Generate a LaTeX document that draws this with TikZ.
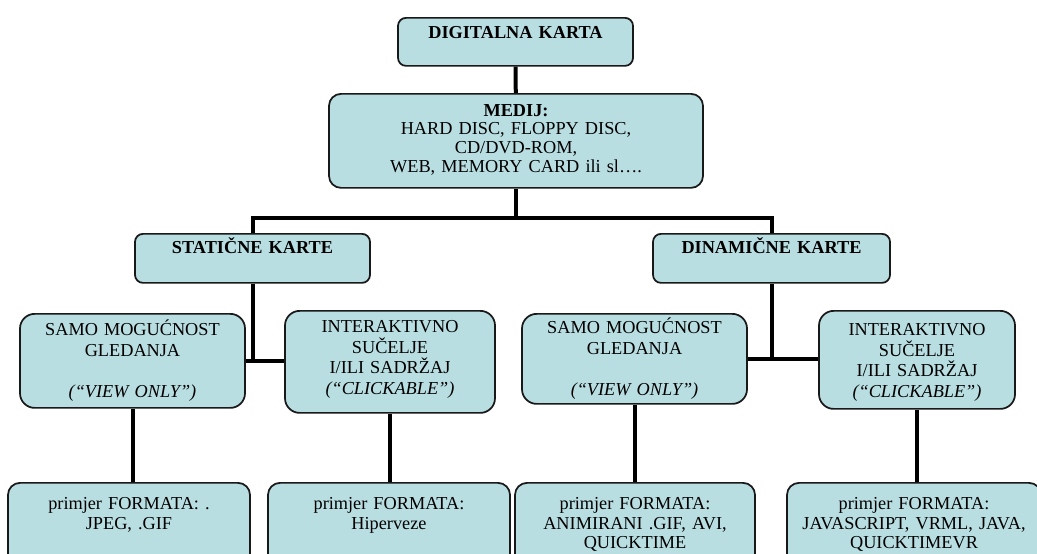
\documentclass[tikz,border=0pt]{standalone}
\usepackage{fontspec}
\setmainfont{Liberation Serif}
\usetikzlibrary{calc}
\definecolor{cus-box}{RGB}{185, 222, 226}
\definecolor{cus-edge}{RGB}{25, 25, 25}
\tikzset{
	box/.style={draw=cus-edge, line width=1.3pt, fill=cus-box, anchor=north, inner sep=0pt, align=center, font=\fontsize{13.7}{13.9}\selectfont},
	head/.style={box, rounded corners=6pt, font=\fontsize{13.7}{13.9}\selectfont\bfseries},
	kind/.style={box, rounded corners=11pt, font=\fontsize{13.7}{15.4}\selectfont},
	form/.style={box, rounded corners=9pt, text height=20.25pt, text depth=45.75pt, font=\fontsize{13.7}{14.6}\selectfont},
	link/.style={draw=black, line width=3pt}
}
\begin{document}
\begin{tikzpicture}[x=0.75pt, y=-0.75pt]
\clip (0,0) rectangle (1037,553);
\fill[white] (0,0) rectangle (1037,553);

% top
\node [head, text width=176.25pt, text height=15.75pt, text depth=20.25pt] (karta) at (515.5,17) {DIGITALNA KARTA};
\node [box, rounded corners=9pt, text width=280.5pt, text height=16.9pt, text depth=53.6pt] (medij) at (516,93) {\textbf{MEDIJ:}\\HARD DISC, FLOPPY DISC,\\CD/DVD-ROM,\\WEB, MEMORY CARD ili sl….};

% second row
\node [head, text width=176.25pt, text height=15pt, text depth=21.75pt] (stat) at (252.5,233) {STATIČNE KARTE};
\node [head, text width=177.75pt, text height=15pt, text depth=21.75pt] (dinam) at (771.5,233) {DINAMIČNE KARTE};

% third row
\node [kind, text width=168.75pt, text height=16.5pt, text depth=54pt] (viewa) at (132.5,313) {SAMO MOGUĆNOST\\GLEDANJA\\[15.4pt]\textit{(“VIEW ONLY”)}};
\node [kind, text width=157.5pt, text height=16.5pt, text depth=60pt] (clicka) at (390,310) {INTERAKTIVNO\\SUČELJE\\I/ILI SADRŽAJ\\\textit{(“CLICKABLE”)}};
\node [kind, text width=168.75pt, text height=15pt, text depth=52.5pt] (viewb) at (634.5,313) {SAMO MOGUĆNOST\\GLEDANJA\\[15.4pt]\textit{(“VIEW ONLY”)}};
\node [kind, text width=147pt, text height=18.75pt, text depth=54.75pt] (clickb) at (917,310) {INTERAKTIVNO\\SUČELJE\\I/ILI SADRŽAJ\\\textit{(“CLICKABLE”)}};

% formats
\node [form, text width=181.5pt] (forma) at (129,482) {primjer FORMATA: .\\JPEG, .GIF};
\node [form, text width=181.5pt] (formb) at (389,482) {primjer FORMATA:\\Hiperveze};
\node [form, text width=180pt] (formc) at (635,482) {primjer FORMATA:\\ANIMIRANI .GIF, AVI,\\QUICKTIME};
\node [form, text width=190.5pt] (formd) at (914,482) {primjer FORMATA:\\JAVASCRIPT, VRML, JAVA,\\QUICKTIMEVR};

% connectors
\coordinate (split) at (medij.south |- 0,218);
\draw [link] (karta) -- (medij);
\draw [link] (medij) -- (split);
\draw [link] (stat) |- (split) -| (dinam);
\draw [link] (stat.south) -- (stat.south |- viewa.east);
\draw [link] (viewa.east) -- (viewa.east -| clicka.west);
\draw [link] (dinam.south) -- (dinam.south |- viewb.east);
\draw [link] (viewb.east) -- (viewb.east -| clickb.west);
\draw [link] (viewa.south) -- (viewa.south |- forma.north);
\draw [link] (clicka.south) -- (clicka.south |- formb.north);
\draw [link] (viewb.south) -- (viewb.south |- formc.north);
\draw [link] (clickb.south) -- (clickb.south |- formd.north);
\end{tikzpicture}
\end{document}
